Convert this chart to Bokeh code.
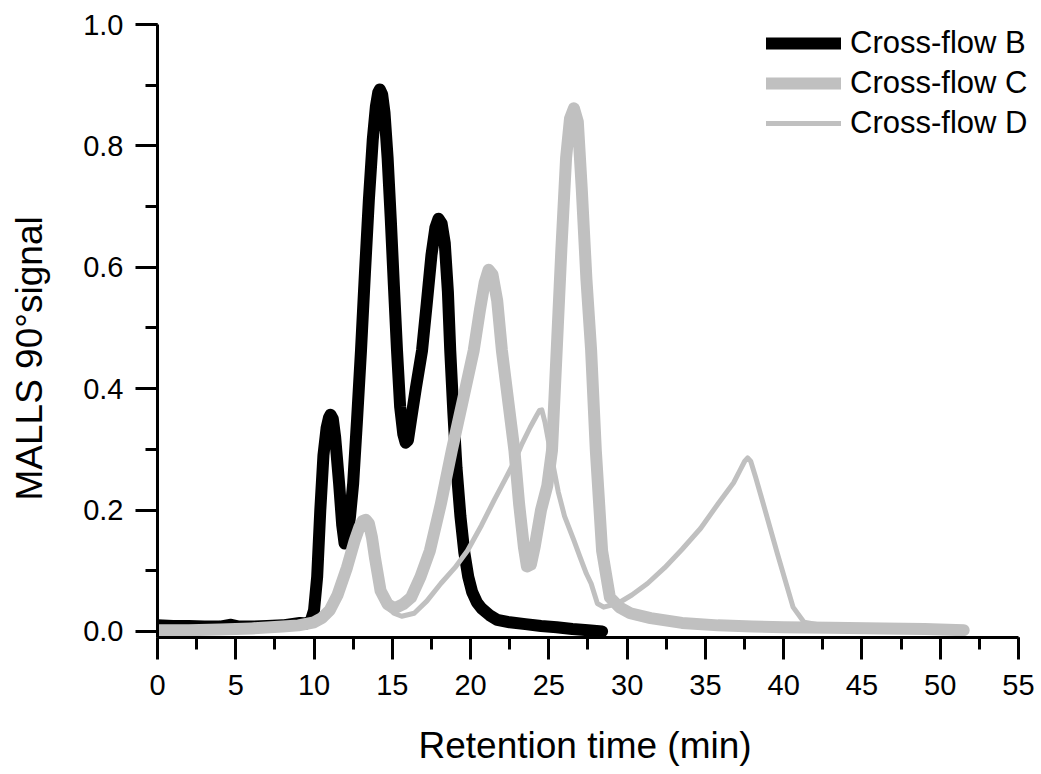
from bokeh.plotting import figure
from bokeh.models import Range1d, SingleIntervalTicker, PrintfTickFormatter, Title
from bokeh.embed import file_html
from bokeh.resources import INLINE

# Cross-flow B (black, thick)
b_time = [0, 1, 2, 3, 4, 4.7, 5.2, 6, 7, 8, 9.1, 9.5, 9.8, 10.0, 10.2, 10.4, 10.6, 10.8, 10.95, 11.05,
          11.2, 11.35, 11.6, 11.8, 11.95, 12.1, 12.3, 12.5, 12.75, 13.0, 13.25, 13.5, 13.75, 13.95,
          14.1, 14.2, 14.35, 14.5, 14.7, 14.9, 15.1, 15.3, 15.5, 15.7, 15.85, 16.0, 16.2, 16.5, 16.9,
          17.2, 17.5, 17.75, 17.95, 18.15, 18.35, 18.55, 18.7, 18.9, 19.1, 19.35, 19.6, 19.85, 20.1,
          20.4, 20.7, 21.2, 21.7, 22.5, 23.5, 24.5, 25.5, 26.5, 27.5, 28.4]
b_signal = [0.010, 0.009, 0.009, 0.008, 0.008, 0.011, 0.008, 0.008, 0.009, 0.010, 0.014, 0.013, 0.018,
            0.035, 0.09, 0.20, 0.29, 0.335, 0.352, 0.357, 0.35, 0.32, 0.244, 0.175, 0.145, 0.15, 0.19,
            0.244, 0.35, 0.463, 0.59, 0.71, 0.81, 0.865, 0.888, 0.893, 0.885, 0.855, 0.78, 0.68, 0.57,
            0.463, 0.37, 0.325, 0.311, 0.315, 0.35, 0.40, 0.463, 0.54, 0.62, 0.665, 0.68, 0.672, 0.64,
            0.56, 0.463, 0.36, 0.27, 0.19, 0.13, 0.09, 0.065, 0.048, 0.038, 0.027, 0.019, 0.015, 0.012,
            0.009, 0.007, 0.004, 0.002, 0.0]

# Cross-flow C (grey, thick)
c_time = [0, 2, 4, 6, 8, 9, 10, 10.5, 11, 11.5, 12.1, 12.6, 12.9, 13.1, 13.3, 13.5, 13.7, 13.9, 14.25,
          14.7, 15.0, 15.3, 15.7, 16.2, 16.8, 17.4, 18.1, 18.8, 19.5, 20.2, 20.6, 20.9, 21.15, 21.4,
          21.7, 22.0, 22.4, 22.8, 23.1, 23.4, 23.6, 23.85, 24.1, 24.5, 24.9, 25.2, 25.5, 25.8, 26.1,
          26.35, 26.6, 26.85, 27.1, 27.4, 27.7, 28.0, 28.4, 28.9, 29.5, 30.2, 31.5, 33.5, 35.8, 38,
          40, 43, 46.4, 49, 51.5]
c_signal = [0.002, 0.002, 0.003, 0.005, 0.008, 0.010, 0.015, 0.022, 0.035, 0.06, 0.105, 0.15, 0.172,
            0.182, 0.184, 0.178, 0.155, 0.12, 0.067, 0.045, 0.04, 0.04, 0.045, 0.056, 0.09, 0.133, 0.21,
            0.298, 0.38, 0.463, 0.53, 0.575, 0.596, 0.588, 0.545, 0.463, 0.38, 0.298, 0.21, 0.14, 0.107,
            0.11, 0.14, 0.2, 0.24, 0.298, 0.463, 0.63, 0.78, 0.845, 0.862, 0.84, 0.73, 0.58, 0.463,
            0.298, 0.133, 0.056, 0.04, 0.03, 0.022, 0.014, 0.01, 0.008, 0.007, 0.006, 0.005, 0.004, 0.002]

# Cross-flow D (grey, thin)
d_time = [0, 2, 4, 6, 8, 9, 10, 10.5, 11, 11.5, 12.1, 12.6, 12.9, 13.1, 13.3, 13.5, 13.7, 13.9, 14.25,
          14.7, 15.1, 15.6, 16.4, 17.2, 18.1, 19.0, 19.8, 20.7, 21.5, 22.2, 22.8, 23.3, 23.8, 24.2,
          24.4, 24.55, 24.75, 25.0, 25.3, 25.6, 26.0, 26.6, 27.0, 27.4, 27.7, 28.1, 28.5, 29.4, 30.3,
          31.3, 32.4, 33.5, 34.7, 35.8, 36.8, 37.2, 37.5, 37.7, 37.9, 38.2, 38.7, 39.6, 40.6, 41.3,
          42.5, 45, 48, 51.5]
d_signal = [0.001, 0.002, 0.003, 0.005, 0.008, 0.010, 0.015, 0.022, 0.035, 0.06, 0.105, 0.15, 0.172,
            0.182, 0.184, 0.178, 0.155, 0.12, 0.067, 0.04, 0.03, 0.025, 0.03, 0.05, 0.079, 0.105, 0.133,
            0.175, 0.216, 0.25, 0.28, 0.31, 0.336, 0.355, 0.364, 0.365, 0.345, 0.31, 0.27, 0.23, 0.19,
            0.15, 0.122, 0.095, 0.079, 0.046, 0.04, 0.046, 0.06, 0.079, 0.105, 0.135, 0.17, 0.21, 0.245,
            0.265, 0.28, 0.286, 0.28, 0.255, 0.21, 0.128, 0.04, 0.015, 0.01, 0.007, 0.005, 0.003]

x_label = "Retention time (min)"
y_label = "MALLS 90°signal"
series_names = ["Cross-flow B", "Cross-flow C", "Cross-flow D"]

FONT = "Liberation Sans"

p = figure(width=1041, height=774, output_backend="svg", toolbar_location=None,
           x_range=Range1d(0, 56.47), y_range=Range1d(-0.01, 1.0),
           min_border_left=157, min_border_right=0, min_border_top=24, min_border_bottom=137)
p.outline_line_color = None
p.xgrid.visible = False
p.ygrid.visible = False
p.background_fill_color = "white"
p.border_fill_color = "white"

p.xaxis.ticker = SingleIntervalTicker(interval=5, num_minor_ticks=2)
p.yaxis.ticker = SingleIntervalTicker(interval=0.2, num_minor_ticks=2)
p.yaxis.formatter = PrintfTickFormatter(format="%.1f")
p.xaxis.bounds = (0, 55)

for ax in (p.xaxis[0], p.yaxis[0]):
    ax.axis_line_width = 3
    ax.axis_line_color = "black"
    ax.major_tick_line_width = 3
    ax.minor_tick_line_width = 3
    ax.major_tick_line_color = "black"
    ax.minor_tick_line_color = "black"
    ax.major_tick_in = 0
    ax.major_tick_out = 22
    ax.minor_tick_in = 0
    ax.minor_tick_out = 12
    ax.major_label_text_font = FONT
    ax.major_label_text_font_size = "29px"
    ax.major_label_text_color = "black"
    # blank spacer label, so that the real titles sit further out
    ax.axis_label = " "
    ax.axis_label_text_font_size = "10px"

p.yaxis.major_label_standoff = 12
p.xaxis.major_label_standoff = 15
p.yaxis.axis_label_standoff = 7
p.xaxis.axis_label_standoff = 13

ytitle = Title(text=y_label, align="left", offset=137, standoff=16, vertical_align="top",
               text_font=FONT, text_font_size="37px", text_font_style="normal",
               text_color="black")
p.add_layout(ytitle, "left")

xtitle = Title(text=x_label, align="left", offset=261, standoff=0, vertical_align="top",
               text_font=FONT, text_font_size="37px", text_font_style="normal",
               text_color="black")
p.add_layout(xtitle, "below")

p.line(b_time, b_signal, line_color="black", line_width=12, line_join="round", line_cap="round",
       legend_label=series_names[0])
p.line(c_time, c_signal, line_color="#c0c0c0", line_width=12, line_join="round", line_cap="round",
       legend_label=series_names[1])
p.line(d_time, d_signal, line_color="#c0c0c0", line_width=5, line_join="round", line_cap="round",
       legend_label=series_names[2])

lg = p.legend[0]
lg.location = (609, 494)
lg.padding = 0
lg.margin = 0
lg.spacing = 0
lg.glyph_width = 75
lg.glyph_height = 40
lg.label_height = 40
lg.label_standoff = 9
lg.border_line_color = None
lg.background_fill_alpha = 0
lg.label_text_font = FONT
lg.label_text_font_size = "31px"
lg.label_text_color = "black"

open("out.html", "w").write(file_html(p, INLINE))
